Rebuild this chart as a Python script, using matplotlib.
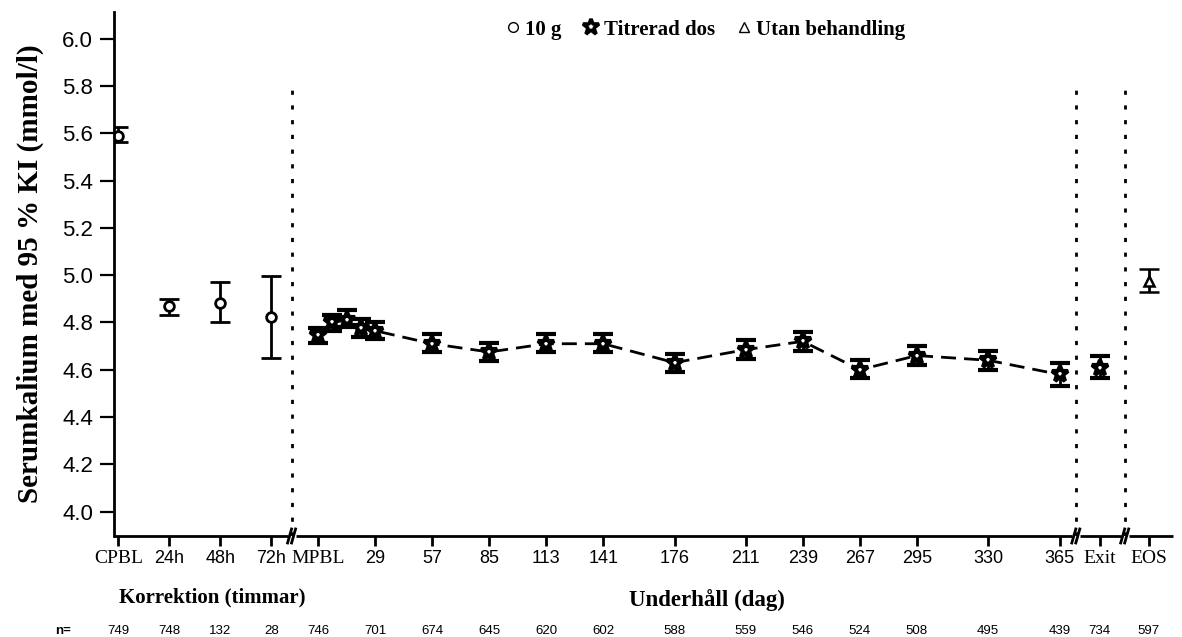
import matplotlib.pyplot as plt
import matplotlib.transforms as mtransforms
from matplotlib.lines import Line2D
import numpy as np

# Korrektion (timmar) - 10 g
korr_labels = ['CPBL', '24h', '48h', '72h']
korr_mean = [5.590, 4.868, 4.883, 4.825]
korr_low = [5.563, 4.833, 4.800, 4.650]
korr_high = [5.627, 4.900, 4.973, 4.998]
korr_n = [749, 748, 132, 28]

# Underhåll (dag) - Titrerad dos
uh_days = [1, 8, 15, 22, 29, 57, 85, 113, 141, 176, 211, 239, 267, 295, 330, 365]
uh_mean = [4.748, 4.800, 4.810, 4.775, 4.765, 4.710, 4.675, 4.710, 4.710,
           4.630, 4.685, 4.720, 4.600, 4.660, 4.640, 4.580]
uh_low = [4.715, 4.765, 4.780, 4.738, 4.730, 4.675, 4.635, 4.675, 4.675,
          4.590, 4.645, 4.680, 4.565, 4.620, 4.600, 4.530]
uh_high = [4.775, 4.833, 4.853, 4.815, 4.800, 4.750, 4.715, 4.750, 4.750,
           4.665, 4.725, 4.760, 4.640, 4.700, 4.680, 4.627]
uh_ticks = [1, 29, 57, 85, 113, 141, 176, 211, 239, 267, 295, 330, 365]
uh_ticklabels = ['MPBL', '29', '57', '85', '113', '141', '176', '211', '239',
                 '267', '295', '330', '365']
uh_n = [746, 701, 674, 645, 620, 602, 588, 559, 546, 524, 508, 495, 439]

# Exit (Titrerad dos) and EOS (Utan behandling)
exit_mean, exit_low, exit_high, exit_n = 4.606, 4.564, 4.658, 734
eos_mean, eos_low, eos_high, eos_n = 4.975, 4.930, 5.025, 597

# layout positions on the day axis
korr_x = -97 + 25 * np.arange(len(korr_labels))
exit_x = 384.7
eos_x = 408.8
breaks = [-12, 373, 397]
xmin, xmax = -99.2, 420.9
PX = 1 / 2.036  # days per pixel

serif = 'Liberation Serif'
sans = 'Liberation Sans'

fig = plt.figure(figsize=(11.82, 6.37), dpi=100)
ax = fig.add_axes([0.0964, 0.1586, 0.8963, 0.8226])

err_kw = dict(color='black', elinewidth=2, capsize=7.5, capthick=2.6, ls='none')

def yerr(m, lo, hi):
    m, lo, hi = np.asarray(m), np.asarray(lo), np.asarray(hi)
    return [m - lo, hi - m]

ax.errorbar(korr_x, korr_mean, yerr=yerr(korr_mean, korr_low, korr_high),
            marker='o', ms=7, mfc='white', mec='black', mew=2, **err_kw)

ax.plot(uh_days, uh_mean, color='black', lw=2, dashes=(5.4, 2.9), zorder=1)
star_kw = dict(marker='*', ms=12, mfc='white', mec='black', mew=3)
ax.errorbar(uh_days, uh_mean, yerr=yerr(uh_mean, uh_low, uh_high),
            **star_kw, **err_kw)
ax.errorbar([exit_x], [exit_mean], yerr=yerr([exit_mean], [exit_low], [exit_high]),
            **star_kw, **err_kw)
ax.errorbar([eos_x], [eos_mean], yerr=yerr([eos_mean], [eos_low], [eos_high]),
            marker='^', ms=7, mfc='white', mec='black', mew=1.8, **err_kw)

ax.set_xlim(xmin, xmax)
ax.set_ylim(3.897, 6.113)

# dotted separators
for b in breaks:
    ax.plot([b, b], [3.897, 5.79], color='black', lw=2, dashes=(1.5, 3.8),
            zorder=0)

# y axis
ax.set_yticks(np.arange(4.0, 6.01, 0.2))
ax.set_yticklabels([f'{v:.1f}' for v in np.arange(4.0, 6.01, 0.2)],
                   fontfamily=sans, fontsize=16)
ax.tick_params(axis='y', length=10, width=1.6, pad=5)
ax.set_ylabel('Serumkalium med 95 % KI (mmol/l)', fontfamily=serif,
              fontweight='bold', fontsize=21, labelpad=13)

ax.spines['top'].set_visible(False)
ax.spines['right'].set_visible(False)
ax.spines['bottom'].set_visible(False)
ax.spines['left'].set_linewidth(2)

# x axis with breaks
xt = list(korr_x) + uh_ticks + [exit_x, eos_x]
xl = korr_labels + uh_ticklabels + ['Exit', 'EOS']
ax.set_xticks(xt)
ax.set_xticklabels(xl)
for t in ax.get_xticklabels():
    if t.get_text() in ('CPBL', 'MPBL', 'Exit', 'EOS'):
        t.set_fontfamily(serif)
        t.set_fontsize(14)
    else:
        t.set_fontfamily(sans)
        t.set_fontsize(13)
ax.tick_params(axis='x', length=7, width=2, pad=3)

trans = mtransforms.blended_transform_factory(ax.transData, ax.transAxes)
gap = 4 * PX
edges = [xmin] + [v for b in breaks for v in (b - gap, b + gap)] + [xmax]
for i in range(0, len(edges), 2):
    ax.plot([edges[i], edges[i + 1]], [0, 0], color='black', lw=2,
            transform=trans, clip_on=False, solid_capstyle='butt')
dy = 1 / 524
for b in breaks:
    for off in (-2, 2):
        ax.plot([b + (off - 2) * PX, b + (off + 2) * PX], [-7 * dy, 7 * dy],
                color='black', lw=2, transform=trans, clip_on=False)

# group labels
ax.text(-51, -0.118, 'Korrektion (timmar)', transform=trans, ha='center',
        va='center', fontfamily=serif, fontweight='bold', fontsize=15)
ax.text(192, -0.122, 'Underhåll (dag)', transform=trans, ha='center',
        va='center', fontfamily=serif, fontweight='bold', fontsize=16.5)

# n= row
ntrans = mtransforms.blended_transform_factory(ax.transData, fig.transFigure)
n_vals = korr_n + uh_n + [exit_n, eos_n]
for x, n in zip(xt, n_vals):
    ax.text(x, 0.0094, str(n), transform=ntrans, ha='center', va='center',
            fontfamily=sans, fontsize=9.5)
fig.text(0.047, 0.0094, 'n=', ha='left', va='center', fontfamily=sans,
         fontweight='bold', fontsize=9.5)

# legend
handles = [
    Line2D([], [], ls='none', marker='o', ms=7, mfc='white', mec='black', mew=1),
    Line2D([], [], ls='none', marker='*', ms=12, mfc='white', mec='black', mew=2.6),
    Line2D([], [], ls='none', marker='^', ms=7, mfc='white', mec='black', mew=1),
]
ax.legend(handles, ['10 g', 'Titrerad dos', 'Utan behandling'],
          loc='center', bbox_to_anchor=(0.558, 0.966), ncol=3, frameon=False,
          handlelength=0.8, handletextpad=0.2, columnspacing=1.0,
          prop=dict(family=serif, weight='bold', size=15))

fig.savefig('out.png', dpi=100)
